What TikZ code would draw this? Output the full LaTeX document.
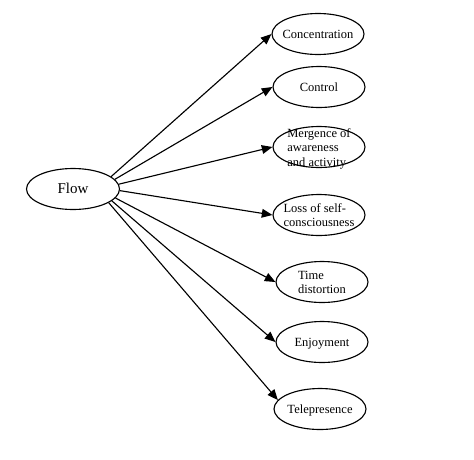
\documentclass[tikz,border=0pt]{standalone}
\usepackage{fontspec}
\setmainfont{Liberation Serif}
\usetikzlibrary{shapes.geometric,arrows.meta}
\tikzset{
	>={Triangle[length=8.5pt,width=7pt]},
	trait/.style={
		ellipse,
		draw=black, line width=0.9pt,
		minimum width=73.6pt,
		minimum height=32.8pt,
		inner sep=0pt,
		font=\fontsize{10}{11.6}\selectfont},
	hub/.style={
		trait,
		minimum width=74.4pt,
		font=\fontsize{12}{14}\selectfont},
	link/.style={draw, ->, line width=0.9pt},
}
\newcommand*\inoval[1]{\makebox[0pt]{\raisebox{-3.8pt}[0pt][0pt]{%
			\begin{tabular}{@{}l@{}}#1\end{tabular}}}}

\begin{document}
\begin{tikzpicture}[x=0.8pt, y=-0.8pt]
\useasboundingbox (0,0) rectangle (474,459);
\node[hub] (flow) at (73,189) {\inoval{Flow}};
\node[trait] (conc) at (318,34) {\inoval{Concentration}};
\node[trait] (ctrl) at (319,87) {\inoval{Control}};
\node[trait] (merg) at (319,147) {\inoval{Mergence of\\awareness\\and activity}};
\node[trait] (loss) at (319,215) {\inoval{Loss of self-\\consciousness}};
\node[trait] (time) at (322,282) {\inoval{Time\\distortion}};
\node[trait] (enjoy) at (322,342) {\inoval{Enjoyment}};
\node[trait] (tele) at (320,409) {\inoval{Telepresence}};

% arrows leave Flow on its right side
\draw[link] (flow.18) -- (conc.west);
\draw[link] (flow.13) -- (ctrl.west);
\draw[link] (flow.6) -- (merg.west);
\draw[link] (flow.-2) -- (loss.west);
\draw[link] (flow.-12) -- (time.west);
\draw[link] (flow.-17) -- (enjoy.west);
\draw[link] (flow.-21) -- (tele.168);
\end{tikzpicture}
\end{document}
